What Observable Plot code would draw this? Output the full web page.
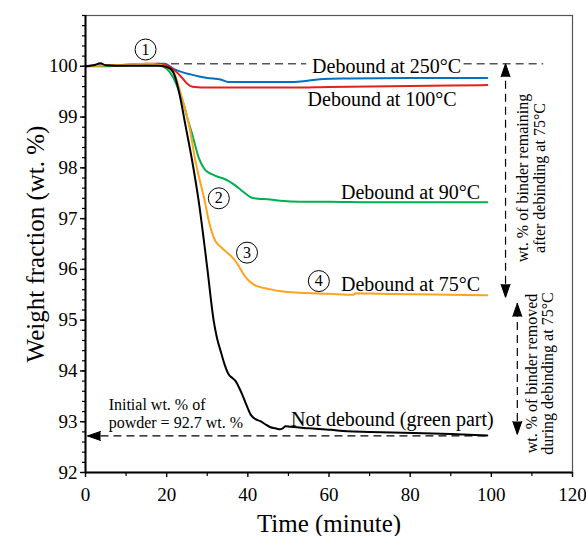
<!DOCTYPE html>
<html><head><meta charset="utf-8">
<script src="https://cdn.jsdelivr.net/npm/d3@7"></script>
<script src="https://cdn.jsdelivr.net/npm/@observablehq/plot@0.6"></script>
<style>body{margin:0;background:#fff}</style>
</head><body><div id="chart"></div>
<script>
// ---- data (time in minutes, weight fraction in wt. %) ----
const t250 = [0, 4, 10, 15, 18, 19.5, 21.7, 24, 25.9, 28, 30, 33.3, 35.2, 40, 50, 53, 56, 58.6, 65, 80, 99];
const v250 = [100.0, 100.02, 100.02, 100.03, 100.05, 100.05, 99.95, 99.88, 99.84, 99.8, 99.77, 99.74, 99.69, 99.69, 99.69, 99.70, 99.73, 99.75, 99.76, 99.77, 99.77];

const t100 = [0, 5, 10, 15, 18, 20, 21.7, 22.8, 23.8, 25, 25.9, 27, 30, 40, 50, 60, 70, 80, 90, 99];
const v100 = [100.0, 100.02, 100.03, 100.05, 100.05, 100.02, 99.93, 99.86, 99.77, 99.66, 99.61, 99.59, 99.58, 99.58, 99.58, 99.59, 99.60, 99.61, 99.62, 99.63];

const t90 = [0, 5, 10, 15, 18, 20, 21.7, 23, 24.2, 25.2, 26.3, 27.1, 27.9, 28.8, 29.6, 31, 32.4, 34, 35.3, 36.8, 38.2, 39.5, 40.7, 42.5, 44.8, 48, 53, 60, 70, 80, 90, 99];
const v90 = [100.0, 100.0, 100.02, 100.02, 100.02, 99.95, 99.77, 99.52, 99.25, 98.95, 98.66, 98.42, 98.2, 98.04, 97.95, 97.88, 97.83, 97.79, 97.74, 97.66, 97.57, 97.49, 97.42, 97.39, 97.38, 97.35, 97.33, 97.33, 97.32, 97.32, 97.32, 97.32];

const t75 = [0, 5, 10, 15, 18, 20, 21.8, 23.5, 25.5, 27.1, 29.4, 30.4, 31.2, 32, 33.5, 34.9, 36, 37, 38, 39, 40.2, 41.5, 43, 44.8, 48, 53, 60, 66, 66.5, 72.7, 80, 90, 99];
const v75 = [100.0, 100.02, 100.03, 100.05, 100.03, 99.98, 99.87, 99.45, 98.85, 98.13, 97.34, 96.95, 96.72, 96.56, 96.43, 96.33, 96.25, 96.16, 96.03, 95.9, 95.78, 95.70, 95.65, 95.62, 95.57, 95.54, 95.52, 95.50, 95.53, 95.52, 95.51, 95.50, 95.49];

const tGreen = [0, 2, 3.7, 5, 10, 15, 18, 20.5, 21.8, 23.2, 24.6, 26.3, 27.9, 30, 31.6, 32.4, 33.3, 34.3, 35.3, 36.2, 37, 37.8, 38.6, 39.7, 40.7, 41.9, 43.1, 44.3, 45.6, 46.8, 47.9, 48.6, 49.3, 50.5, 55, 60.4, 64.5, 70, 80.9, 90, 99];
const vGreen = [100.0, 100.02, 100.06, 100.02, 100.01, 100.01, 100.01, 99.97, 99.85, 99.44, 98.85, 98.13, 97.34, 96.03, 94.98, 94.65, 94.39, 94.12, 93.93, 93.86, 93.80, 93.68, 93.54, 93.32, 93.14, 93.05, 93.01, 92.95, 92.89, 92.87, 92.85, 92.87, 92.91, 92.90, 92.87, 92.84, 92.81, 92.80, 92.78, 92.76, 92.73];

const seriesNames = ["Debound at 250°C", "Debound at 100°C", "Debound at 90°C", "Debound at 75°C", "Not debound (green part)"];
const seriesColors = ["#0070C0", "#E3201B", "#00B050", "#FFA31A", "#000000"];
const seriesT = [t250, t100, t90, t75, tGreen];
const seriesV = [v250, v100, v90, v75, vGreen];

// label positions (time, wt. %)
const labelT = [74.2, 73.1, 80.1, 80.1, 75.6];
const labelV = [100.0, 99.34, 97.51, 95.70, 93.04];

// numbered markers
const markerText = ["1", "2", "3", "4"];
const markerT = [14.8, 32.85, 39.8, 57.5];
const markerV = [100.33, 97.40, 96.33, 95.77];

// reference levels
const topLevel = 100.05;      // start weight
const powderLevel = 92.72;    // initial wt. % of powder
const level75 = 95.45;

const xTicks = [0, 20, 40, 60, 80, 100, 120];
const xMinor = [10, 30, 50, 70, 90, 110];
const yTicks = [92, 93, 94, 95, 96, 97, 98, 99, 100];
const yMinor = d3.range(92, 101.001, 0.2).map(d => +d.toFixed(1));

// ---- build tables ----
const lineData = seriesNames.map((name, i) => seriesT[i].map((t, j) => ({t, v: seriesV[i][j]})));
const labels = seriesNames.map((name, i) => ({text: name, t: labelT[i], v: labelV[i]}));
const markers = markerText.map((s, i) => ({text: s, t: markerT[i], v: markerV[i]}));

const hDashTop = [{x1: 18, x2: 54.5, y: topLevel}, {x1: 93.3, x2: 112.9, y: topLevel}];
const hDashBottom = [{x1: 0.6, x2: 99, y: powderLevel}];
const vDash = [{x: 103.5, y1: level75, y2: topLevel}, {x: 106.4, y1: powderLevel + 0.03, y2: 95.33}];
const heads = [
  {x: 103.5, y: topLevel, rotate: 0},
  {x: 103.5, y: level75, rotate: 180},
  {x: 106.4, y: 95.33, rotate: 0},
  {x: 106.4, y: powderLevel + 0.03, rotate: 180},
  {x: 0.5, y: powderLevel, rotate: 270}
];
const sideNotes = [
  {text: "wt. % of binder remaining", x: 107.8, y: 97.8},
  {text: "after debinding at 75°C", x: 111.9, y: 97.8},
  {text: "wt. % of binder removed", x: 109.9, y: 93.95},
  {text: "during debinding at 75°C", x: 113.9, y: 93.95}
];
const powderNote = [
  {text: "Initial wt. % of", x: 5.7, y: 93.34},
  {text: "powder = 92.7 wt. %", x: 5.7, y: 92.98}
];

const serif = "Liberation Serif, Times New Roman, serif";

const chart = Plot.plot({
  width: 586,
  height: 536,
  marginLeft: 85,
  marginRight: 14,
  marginTop: 15,
  marginBottom: 64,
  style: {fontFamily: serif, fontSize: "19px", background: "white", color: "black"},
  x: {domain: [0, 120], label: null},
  y: {domain: [92, 101], label: null},
  marks: [
    Plot.frame({stroke: "#555", strokeWidth: 1.2}),
    Plot.axisX({ticks: xMinor, tickSize: 4, tickFormat: () => "", label: null, strokeWidth: 1.2}),
    Plot.axisX({ticks: xTicks, tickSize: 5, tickPadding: 10, fontSize: 19, label: null, strokeWidth: 1.4}),
    Plot.axisY({ticks: yMinor, tickSize: 3, tickFormat: () => "", label: null, strokeWidth: 1.2}),
    Plot.axisY({ticks: yTicks, tickSize: 5, tickPadding: 3, fontSize: 19, label: null, strokeWidth: 1.4}),
    // reference dashed lines
    Plot.ruleY(hDashTop, {x1: "x1", x2: "x2", y: "y", stroke: "#555", strokeWidth: 1.3, strokeDasharray: "8,5"}),
    Plot.ruleY(hDashBottom, {x1: "x1", x2: "x2", y: "y", stroke: "black", strokeWidth: 1.2, strokeDasharray: "8,5"}),
    Plot.ruleX(vDash, {x: "x", y1: "y1", y2: "y2", stroke: "black", strokeWidth: 1.2, strokeDasharray: "8,5"}),
    Plot.vector(heads, {x: "x", y: "y", rotate: "rotate", length: 13, r: 4.5, shape: "spike", anchor: "end", fill: "black", stroke: "black", strokeWidth: 1}),
    // curves
    ...lineData.map((d, i) => Plot.line(d, {x: "t", y: "v", stroke: seriesColors[i], strokeWidth: 2, curve: "monotone-x"})),
    // axis lines
    Plot.ruleX([0], {stroke: "black", strokeWidth: 2}),
    Plot.ruleY([92], {stroke: "black", strokeWidth: 2}),
    // labels
    Plot.text(labels, {x: "t", y: "v", text: "text", fontSize: 20, fill: "black"}),
    Plot.dot(markers, {x: "t", y: "v", r: 10.5, stroke: "black", strokeWidth: 1, fill: "none"}),
    Plot.text(markers, {x: "t", y: "v", text: "text", fontSize: 16, fill: "black"}),
    Plot.text(sideNotes, {x: "x", y: "y", text: "text", rotate: -90, fontSize: 16, fill: "black"}),
    Plot.text(powderNote, {x: "x", y: "y", text: "text", textAnchor: "start", fontSize: 16, fill: "black"}),
    // axis titles
    Plot.text(["Weight fraction (wt. %)"], {frameAnchor: "left", dx: -50, rotate: -90, textAnchor: "middle", lineAnchor: "middle", fontSize: 25, fill: "black"}),
    Plot.text(["Time (minute)"], {frameAnchor: "bottom", dy: 51, textAnchor: "middle", lineAnchor: "middle", fontSize: 25, fill: "black"})
  ]
});
document.getElementById("chart").appendChild(chart);
</script>
</body></html>
